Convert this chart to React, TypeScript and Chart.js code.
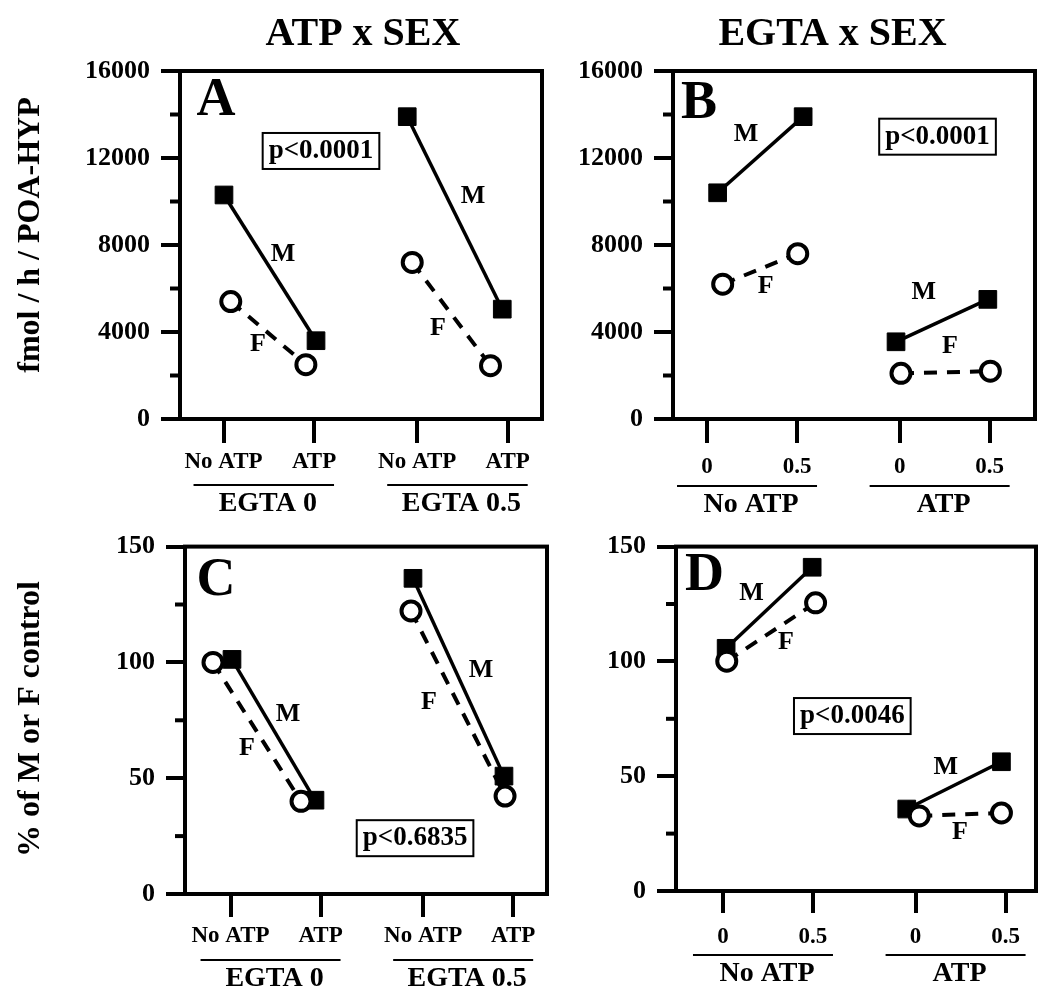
import React, { useEffect, useRef } from 'react';
import { Chart, registerables } from 'chart.js';

Chart.register(...registerables);

const SERIF = "'Liberation Serif', 'Times New Roman', Times, serif";

// ---------- ticks, labels, titles ----------
const xTickValues = [1, 2, 3.14, 4.14];
const atpTickLabels = ['No ATP', 'ATP', 'No ATP', 'ATP'];
const egtaGroupLabels = ['EGTA 0', 'EGTA 0.5'];
const egtaTickLabels = ['0', '0.5', '0', '0.5'];
const atpGroupLabels = ['No ATP', 'ATP'];
const fmolMajorTicks = [0, 4000, 8000, 12000, 16000];
const fmolMinorTicks = [2000, 6000, 10000, 14000];
const pctMajorTicks = [0, 50, 100, 150];
const pctMinorTicks = [25, 75, 125];
const columnTitles = ['ATP x SEX', 'EGTA x SEX'];
const rowTitles = ['fmol / h / POA-HYP', '% of M or F control'];
const panelLetters = ['A', 'B', 'C', 'D'];
const pValues = ['p<0.0001', 'p<0.0001', 'p<0.6835', 'p<0.0046'];

// ---------- data (pairs: [group1 a, group1 b, group2 a, group2 b]) ----------
// Panel A: ATP x SEX (fmol/h)
const aMaleX = [1.005, 2.022, 3.03, 4.08];
const aMaleY = [10300, 3600, 13900, 5050];
const aFemaleX = [1.08, 1.91, 3.085, 3.95];
const aFemaleY = [5400, 2500, 7200, 2450];
// Panel B: EGTA x SEX (fmol/h)
const bMaleX = [1.118, 2.068, 3.1, 4.12];
const bMaleY = [10400, 13900, 3550, 5500];
const bFemaleX = [1.174, 2.008, 3.155, 4.148];
const bFemaleY = [6200, 7600, 2100, 2200];
// Panel C: ATP x SEX (% control)
const cMaleX = [1.016, 1.938, 3.027, 4.038];
const cMaleY = [101.3, 40.5, 136.3, 50.9];
const cFemaleX = [0.805, 1.783, 3.005, 4.05];
const cFemaleY = [100, 40, 122.2, 42.3];
// Panel D: EGTA x SEX (% control)
const dMaleX = [1.035, 1.991, 3.042, 4.094];
const dMaleY = [105.7, 141, 35.7, 56.3];
const dFemaleX = [1.042, 2.029, 3.181, 4.094];
const dFemaleY = [100.1, 125.5, 32.7, 34];

type Ann = [string, number, number];

interface PanelCfg {
  idx: number;
  left: number;
  top: number;
  w: number;
  h: number;
  padTop: number;
  padRight: number;
  yWidth: number;
  xHeight: number;
  xMin: number;
  xMax: number;
  yMax: number;
  yMajor: number[];
  yMinor: number[];
  tickLabels: string[];
  groupLabels: string[];
  xTickLen: number;
  xPad: number;
  underlineDy: number;
  letterDx: number;
  letterDy: number;
  sexLabels: Ann[];
  pPos: [number, number];
  maleX: number[];
  maleY: number[];
  femaleX: number[];
  femaleY: number[];
  title?: string;
  titleX?: number;
  yTitle?: string;
  yTitleY?: number;
}

const panels: PanelCfg[] = [
  {
    idx: 0, left: 0, top: 0, w: 560, h: 520, padTop: 71, padRight: 18, yWidth: 180, xHeight: 101,
    xMin: 0.519, xMax: 4.519, yMax: 16000, yMajor: fmolMajorTicks, yMinor: fmolMinorTicks,
    tickLabels: atpTickLabels, groupLabels: egtaGroupLabels, xTickLen: 24, xPad: 5, underlineDy: 66,
    letterDx: 16.5, letterDy: 44,
    sexLabels: [['M', 1.657, 7587], ['M', 3.757, 10254], ['F', 1.381, 3449], ['F', 3.37, 4184]],
    pPos: [2.077, 12323],
    maleX: aMaleX, maleY: aMaleY, femaleX: aFemaleX, femaleY: aFemaleY,
    title: columnTitles[0], titleX: 363, yTitle: rowTitles[0], yTitleY: 235,
  },
  {
    idx: 1, left: 560, top: 0, w: 490, h: 520, padTop: 71, padRight: 15, yWidth: 113, xHeight: 101,
    xMin: 0.622, xMax: 4.644, yMax: 16000, yMajor: fmolMajorTicks, yMinor: fmolMinorTicks,
    tickLabels: egtaTickLabels, groupLabels: atpGroupLabels, xTickLen: 24, xPad: 10, underlineDy: 67,
    letterDx: 8, letterDy: 47,
    sexLabels: [['M', 1.433, 13104], ['M', 3.409, 5839], ['F', 1.652, 6115], ['F', 3.7, 3357]],
    pPos: [3.561, 12980],
    maleX: bMaleX, maleY: bMaleY, femaleX: bFemaleX, femaleY: bFemaleY,
    title: columnTitles[1], titleX: 272.5,
  },
  {
    idx: 2, left: 0, top: 520, w: 560, h: 485, padTop: 23, padRight: 13, yWidth: 185, xHeight: 111,
    xMin: 0.494, xMax: 4.516, yMax: 150, yMajor: pctMajorTicks, yMinor: pctMinorTicks,
    tickLabels: atpTickLabels, groupLabels: egtaGroupLabels, xTickLen: 23, xPad: 5, underlineDy: 66,
    letterDx: 11.5, letterDy: 48,
    sexLabels: [['M', 1.638, 77.8], ['M', 3.783, 96.6], ['F', 1.183, 62.8], ['F', 3.205, 82.9]],
    pPos: [3.05, 24.1],
    maleX: cMaleX, maleY: cMaleY, femaleX: cFemaleX, femaleY: cFemaleY,
    yTitle: rowTitles[1], yTitleY: 199,
  },
  {
    idx: 3, left: 560, top: 520, w: 490, h: 485, padTop: 22, padRight: 14, yWidth: 116, xHeight: 114,
    xMin: 0.478, xMax: 4.478, yMax: 150, yMajor: pctMajorTicks, yMinor: pctMinorTicks,
    tickLabels: egtaTickLabels, groupLabels: atpGroupLabels, xTickLen: 22, xPad: 10, underlineDy: 64,
    letterDx: 9, letterDy: 43,
    sexLabels: [['M', 1.316, 129.8], ['M', 3.475, 53.7], ['F', 1.7, 108.3], ['F', 3.634, 25.5]],
    pPos: [2.437, 76.2],
    maleX: dMaleX, maleY: dMaleY, femaleX: dFemaleX, femaleY: dFemaleY,
  },
];

function buildDatasets(cfg: PanelCfg) {
  const ds: any[] = [];
  for (let g = 0; g < 2; g++) {
    const i = g * 2;
    ds.push({
      label: 'F',
      data: [
        { x: cfg.femaleX[i], y: cfg.femaleY[i] },
        { x: cfg.femaleX[i + 1], y: cfg.femaleY[i + 1] },
      ],
      borderColor: '#000',
      borderWidth: 4,
      borderDash: [13, 10],
      pointStyle: 'circle',
      pointRadius: 9.5,
      pointHoverRadius: 9.5,
      pointBorderWidth: 4,
      pointBackgroundColor: '#fff',
      pointBorderColor: '#000',
      tension: 0,
      order: 1,
    });
  }
  for (let g = 0; g < 2; g++) {
    const i = g * 2;
    ds.push({
      label: 'M',
      data: [
        { x: cfg.maleX[i], y: cfg.maleY[i] },
        { x: cfg.maleX[i + 1], y: cfg.maleY[i + 1] },
      ],
      borderColor: '#000',
      borderWidth: 3.5,
      pointStyle: 'rect',
      pointRadius: 12.5,
      pointHoverRadius: 12.5,
      pointBorderWidth: 1,
      pointBackgroundColor: '#000',
      pointBorderColor: '#000',
      tension: 0,
      order: 2,
    });
  }
  return ds;
}

function decorPlugin(cfg: PanelCfg) {
  return {
    id: 'decor' + cfg.idx,
    beforeDatasetsDraw(chart: any) {
      const { ctx, chartArea: a } = chart;
      const y = chart.scales.y;
      ctx.save();
      ctx.strokeStyle = '#000';
      ctx.lineWidth = 4;
      cfg.yMinor.forEach((v) => {
        const py = y.getPixelForValue(v);
        ctx.beginPath();
        ctx.moveTo(a.left - 10, py);
        ctx.lineTo(a.left, py);
        ctx.stroke();
      });
      ctx.strokeRect(a.left, a.top, a.right - a.left, a.bottom - a.top);
      ctx.restore();
    },
    afterDatasetsDraw(chart: any) {
      const { ctx, chartArea: a } = chart;
      const x = chart.scales.x;
      const y = chart.scales.y;
      ctx.save();
      ctx.fillStyle = '#000';
      ctx.strokeStyle = '#000';
      // panel letter
      ctx.font = `bold 54px ${SERIF}`;
      ctx.textAlign = 'left';
      ctx.textBaseline = 'alphabetic';
      ctx.fillText(panelLetters[cfg.idx], a.left + cfg.letterDx, a.top + cfg.letterDy);
      // M / F labels
      ctx.font = `bold 26px ${SERIF}`;
      ctx.textAlign = 'center';
      ctx.textBaseline = 'middle';
      cfg.sexLabels.forEach(([t, vx, vy]) => {
        ctx.fillText(t, x.getPixelForValue(vx), y.getPixelForValue(vy));
      });
      // p-value box
      ctx.font = `bold 27px ${SERIF}`;
      const px = x.getPixelForValue(cfg.pPos[0]);
      const py = y.getPixelForValue(cfg.pPos[1]);
      const text = pValues[cfg.idx];
      const bw = ctx.measureText(text).width + 12;
      const bh = 36;
      ctx.lineWidth = 2;
      ctx.strokeRect(px - bw / 2, py - bh / 2, bw, bh);
      ctx.fillText(text, px, py);
      ctx.restore();
    },
    afterDraw(chart: any) {
      const { ctx, chartArea: a } = chart;
      const x = chart.scales.x;
      ctx.save();
      ctx.fillStyle = '#000';
      ctx.strokeStyle = '#000';
      // group underlines and labels
      const uy = a.bottom + cfg.underlineDy;
      ctx.lineWidth = 2;
      ctx.font = `bold 28px ${SERIF}`;
      ctx.textAlign = 'center';
      ctx.textBaseline = 'middle';
      for (let g = 0; g < 2; g++) {
        const x0 = x.getPixelForValue(xTickValues[g * 2]) - 30;
        const x1 = x.getPixelForValue(xTickValues[g * 2 + 1]) + 20;
        ctx.beginPath();
        ctx.moveTo(x0, uy);
        ctx.lineTo(x1, uy);
        ctx.stroke();
        ctx.fillText(cfg.groupLabels[g], (x0 + x1) / 2 + 4, uy + 19);
      }
      // column title
      if (cfg.title) {
        ctx.font = `bold 40px ${SERIF}`;
        ctx.textAlign = 'center';
        ctx.textBaseline = 'alphabetic';
        ctx.fillText(cfg.title, cfg.titleX, 45);
      }
      // row (y axis) title
      if (cfg.yTitle) {
        ctx.translate(31, cfg.yTitleY as number);
        ctx.rotate(-Math.PI / 2);
        ctx.font = `bold 32px ${SERIF}`;
        ctx.textAlign = 'center';
        ctx.textBaseline = 'middle';
        ctx.fillText(cfg.yTitle, 0, 0);
      }
      ctx.restore();
    },
  };
}

function Panel({ cfg }: { cfg: PanelCfg }) {
  const ref = useRef<HTMLCanvasElement>(null);
  useEffect(() => {
    if (!ref.current) return;
    const tickFontX = { family: SERIF, size: 23, weight: 'bold' as const };
    const tickFontY = { family: SERIF, size: 26, weight: 'bold' as const };
    const chart = new Chart(ref.current, {
      type: 'line',
      data: { datasets: buildDatasets(cfg) },
      options: {
        responsive: false,
        animation: false,
        devicePixelRatio: 1,
        events: [],
        layout: {
          autoPadding: false,
          padding: { left: 0, top: cfg.padTop, right: cfg.padRight, bottom: 0 },
        },
        plugins: {
          legend: { display: false },
          tooltip: { enabled: false },
          title: { display: false },
        },
        scales: {
          x: {
            type: 'linear',
            position: 'bottom',
            min: cfg.xMin,
            max: cfg.xMax,
            bounds: 'data',
            afterBuildTicks: (s: any) => {
              s.ticks = xTickValues.map((v) => ({ value: v }));
            },
            afterFit: (s: any) => {
              s.height = cfg.xHeight;
            },
            ticks: {
              autoSkip: false,
              maxRotation: 0,
              minRotation: 0,
              padding: cfg.xPad,
              color: '#000',
              font: tickFontX,
              callback: (_v: any, i: number) => cfg.tickLabels[i],
            },
            grid: {
              drawOnChartArea: false,
              drawTicks: true,
              tickLength: cfg.xTickLen,
              tickWidth: 4,
              tickColor: '#000',
              lineWidth: 4,
              color: '#000',
            },
            border: { display: false },
          },
          y: {
            type: 'linear',
            position: 'left',
            min: 0,
            max: cfg.yMax,
            bounds: 'data',
            afterBuildTicks: (s: any) => {
              s.ticks = cfg.yMajor.map((v) => ({ value: v }));
            },
            afterFit: (s: any) => {
              s.width = cfg.yWidth;
            },
            ticks: {
              autoSkip: false,
              padding: 11,
              color: '#000',
              font: tickFontY,
              callback: (v: any) => String(v),
            },
            grid: {
              drawOnChartArea: false,
              drawTicks: true,
              tickLength: 19,
              tickWidth: 4,
              tickColor: '#000',
              lineWidth: 4,
              color: '#000',
            },
            border: { display: false },
          },
        },
      } as any,
      plugins: [decorPlugin(cfg)],
    });
    return () => chart.destroy();
  }, [cfg]);
  return (
    <canvas
      ref={ref}
      width={cfg.w}
      height={cfg.h}
      style={{ position: 'absolute', left: cfg.left, top: cfg.top, width: cfg.w, height: cfg.h }}
    />
  );
}

export default function App() {
  return (
    <div
      style={{
        position: 'absolute',
        left: 0,
        top: 0,
        width: 1050,
        height: 1005,
        background: '#fff',
        overflow: 'hidden',
      }}
    >
      {panels.map((p) => (
        <Panel key={p.idx} cfg={p} />
      ))}
    </div>
  );
}
